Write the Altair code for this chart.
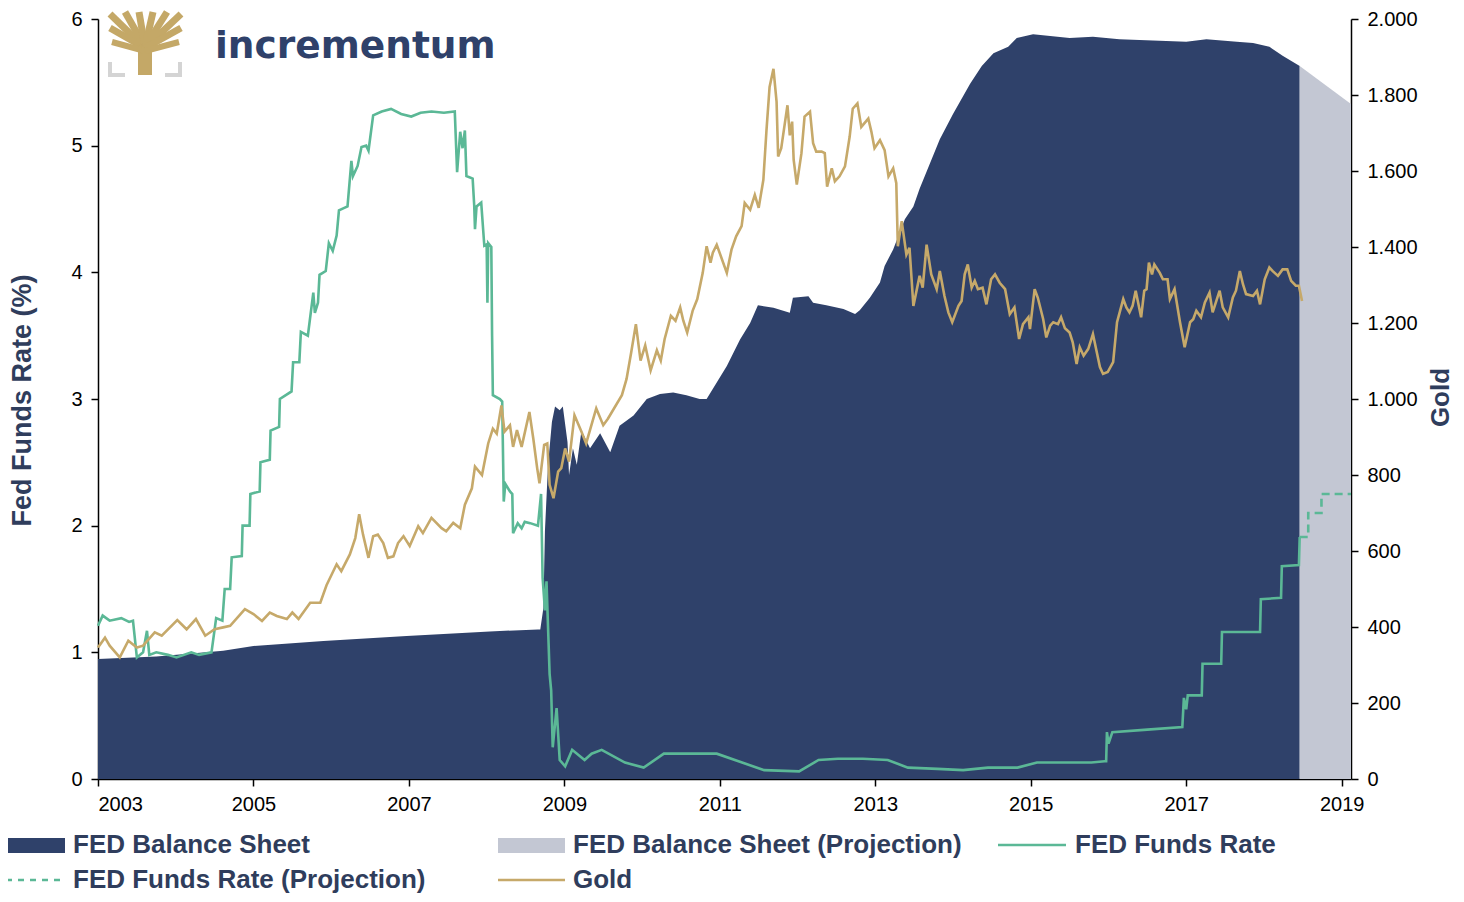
import altair as alt
import pandas as pd

# ---------------- data ----------------
# FED balance sheet, USD bn
bs_years = [2003.00, 2003.75, 2004.61, 2005.00, 2005.90, 2006.97, 2008.04, 2008.66, 2008.69,
            2008.73, 2008.75, 2008.79, 2008.84, 2008.88, 2008.94, 2008.98, 2009.04, 2009.06,
            2009.11, 2009.16, 2009.22, 2009.33, 2009.46, 2009.59, 2009.71, 2009.89, 2010.06,
            2010.23, 2010.40, 2010.57, 2010.74, 2010.83, 2010.96, 2011.09, 2011.26, 2011.39,
            2011.49, 2011.69, 2011.90, 2011.94, 2012.14, 2012.20, 2012.37, 2012.59, 2012.74,
            2012.80, 2012.93, 2013.06, 2013.12, 2013.23, 2013.38, 2013.49, 2013.57, 2013.83,
            2014.00, 2014.22, 2014.37, 2014.52, 2014.71, 2014.82, 2015.03, 2015.50, 2015.80,
            2016.14, 2016.57, 2017.00, 2017.26, 2017.65, 2017.86, 2018.07, 2018.24, 2018.46]
bs_values = [730, 744, 780, 809, 839, 870, 897, 909, 909,
             1040, 1509, 1910, 2171, 2264, 2241, 2264, 2048, 1848,
             2010, 1910, 2118, 2010, 2102, 1987, 2148, 2210, 2310,
             2341, 2349, 2333, 2310, 2310, 2410, 2510, 2672, 2772,
             2880, 2864, 2834, 2926, 2934, 2895, 2880, 2857, 2826,
             2849, 2926, 3018, 3119, 3219, 3403, 3480, 3588, 3889,
             4043, 4227, 4335, 4412, 4451, 4505, 4528, 4505, 4512,
             4497, 4489, 4481, 4497, 4481, 4474, 4451, 4397, 4335]

bs_proj_years = [2018.46, 2019.12]
bs_proj_values = [4335, 4104]

# Effective FED funds rate, %
ffr_years = [2003.00, 2003.06, 2003.15, 2003.30, 2003.40, 2003.45, 2003.50, 2003.58, 2003.63,
             2003.66, 2003.75, 2003.90, 2004.01, 2004.20, 2004.30, 2004.46, 2004.52, 2004.60,
             2004.63, 2004.70, 2004.72, 2004.85, 2004.86, 2004.95, 2004.96, 2005.08, 2005.09,
             2005.21, 2005.22, 2005.33, 2005.34, 2005.49, 2005.51, 2005.59, 2005.61, 2005.70,
             2005.77, 2005.79, 2005.83, 2005.85, 2005.93, 2005.97, 2006.02, 2006.07, 2006.10,
             2006.21, 2006.26, 2006.28, 2006.34, 2006.39, 2006.45, 2006.48, 2006.54, 2006.65,
             2006.77, 2006.90, 2007.03, 2007.15, 2007.29, 2007.45, 2007.59, 2007.62, 2007.66,
             2007.69, 2007.72, 2007.74, 2007.82, 2007.84, 2007.85, 2007.87, 2007.93, 2007.97,
             2008.00, 2008.01, 2008.02, 2008.06, 2008.07, 2008.08, 2008.17, 2008.20, 2008.22,
             2008.24, 2008.30, 2008.33, 2008.34, 2008.40, 2008.45, 2008.49, 2008.56, 2008.66,
             2008.70, 2008.72, 2008.75, 2008.77, 2008.81, 2008.83, 2008.85, 2008.90, 2008.94,
             2009.01, 2009.10, 2009.26, 2009.35, 2009.48, 2009.78, 2010.02, 2010.28, 2010.60,
             2010.96, 2011.24, 2011.57, 2012.02, 2012.27, 2012.52, 2012.84, 2013.16, 2013.42,
             2013.80, 2014.13, 2014.45, 2014.83, 2015.08, 2015.46, 2015.78, 2015.95, 2015.97,
             2015.98, 2016.00, 2016.05, 2016.50, 2016.95, 2016.97, 2017.00, 2017.02, 2017.20,
             2017.21, 2017.45, 2017.46, 2017.95, 2017.96, 2018.22, 2018.23, 2018.45, 2018.46]
ffr_rates = [1.21, 1.29, 1.25, 1.27, 1.24, 1.25, 0.96, 1.00, 1.17,
             0.98, 1.00, 0.98, 0.96, 1.00, 0.98, 1.00, 1.27, 1.25,
             1.50, 1.50, 1.75, 1.76, 2.00, 2.00, 2.25, 2.27, 2.50,
             2.52, 2.75, 2.78, 3.00, 3.06, 3.29, 3.29, 3.53, 3.50,
             3.84, 3.68, 3.76, 3.98, 4.01, 4.23, 4.17, 4.29, 4.49,
             4.52, 4.88, 4.76, 4.84, 4.99, 5.00, 4.96, 5.24, 5.27,
             5.29, 5.25, 5.23, 5.26, 5.27, 5.26, 5.27, 4.79, 5.11,
             4.98, 5.12, 4.76, 4.74, 4.53, 4.34, 4.52, 4.55, 4.21,
             4.22, 3.76, 4.23, 4.20, 3.50, 3.03, 3.00, 2.98, 2.19,
             2.33, 2.27, 2.25, 1.94, 2.02, 1.98, 2.03, 2.02, 2.00,
             2.25, 1.59, 1.33, 1.56, 0.83, 0.70, 0.25, 0.56, 0.15,
             0.10, 0.23, 0.15, 0.20, 0.23, 0.13, 0.09, 0.20, 0.20,
             0.20, 0.14, 0.07, 0.06, 0.15, 0.16, 0.16, 0.15, 0.09,
             0.08, 0.07, 0.09, 0.09, 0.13, 0.13, 0.13, 0.14, 0.14,
             0.37, 0.28, 0.37, 0.39, 0.41, 0.64, 0.55, 0.66, 0.66,
             0.91, 0.91, 1.16, 1.16, 1.42, 1.43, 1.68, 1.69, 1.91]

ffr_proj_years = [2018.46, 2018.57, 2018.57, 2018.74, 2018.74, 2019.12]
ffr_proj_rates = [1.91, 1.91, 2.10, 2.10, 2.25, 2.25]

# Gold, USD/oz
gold_years = [2003.00, 2003.09, 2003.15, 2003.28, 2003.39, 2003.50, 2003.58, 2003.73, 2003.82,
              2004.02, 2004.14, 2004.26, 2004.38, 2004.50, 2004.61, 2004.70, 2004.89, 2005.00,
              2005.11, 2005.21, 2005.30, 2005.43, 2005.50, 2005.58, 2005.73, 2005.86, 2005.94,
              2006.07, 2006.13, 2006.24, 2006.31, 2006.36, 2006.41, 2006.48, 2006.54, 2006.60,
              2006.67, 2006.73, 2006.80, 2006.86, 2006.93, 2007.01, 2007.12, 2007.18, 2007.29,
              2007.42, 2007.48, 2007.57, 2007.66, 2007.72, 2007.81, 2007.85, 2007.94, 2008.02,
              2008.08, 2008.13, 2008.19, 2008.23, 2008.30, 2008.34, 2008.39, 2008.45, 2008.55,
              2008.60, 2008.65, 2008.68, 2008.74, 2008.78, 2008.81, 2008.86, 2008.92, 2008.96,
              2009.01, 2009.06, 2009.13, 2009.22, 2009.28, 2009.41, 2009.50, 2009.56, 2009.74,
              2009.80, 2009.86, 2009.92, 2009.98, 2010.04, 2010.11, 2010.19, 2010.24, 2010.29,
              2010.37, 2010.43, 2010.49, 2010.53, 2010.58, 2010.65, 2010.71, 2010.78, 2010.83,
              2010.88, 2010.91, 2010.96, 2011.09, 2011.15, 2011.21, 2011.28, 2011.32, 2011.39,
              2011.45, 2011.50, 2011.56, 2011.60, 2011.64, 2011.69, 2011.73, 2011.75, 2011.79,
              2011.87, 2011.90, 2011.93, 2011.95, 2011.99, 2012.05, 2012.09, 2012.16, 2012.20,
              2012.24, 2012.31, 2012.35, 2012.38, 2012.44, 2012.48, 2012.54, 2012.61, 2012.67,
              2012.71, 2012.77, 2012.82, 2012.91, 2012.95, 2012.99, 2013.06, 2013.12, 2013.17,
              2013.23, 2013.27, 2013.29, 2013.34, 2013.40, 2013.44, 2013.49, 2013.57, 2013.61,
              2013.66, 2013.72, 2013.79, 2013.83, 2013.89, 2013.94, 2013.99, 2014.07, 2014.11,
              2014.15, 2014.19, 2014.24, 2014.28, 2014.32, 2014.38, 2014.43, 2014.49, 2014.54,
              2014.60, 2014.67, 2014.73, 2014.79, 2014.85, 2014.90, 2014.97, 2014.99, 2015.05,
              2015.09, 2015.16, 2015.20, 2015.25, 2015.29, 2015.35, 2015.39, 2015.44, 2015.50,
              2015.54, 2015.59, 2015.63, 2015.68, 2015.74, 2015.80, 2015.84, 2015.89, 2015.93,
              2015.99, 2016.06, 2016.11, 2016.19, 2016.23, 2016.27, 2016.31, 2016.35, 2016.42,
              2016.46, 2016.49, 2016.52, 2016.56, 2016.59, 2016.66, 2016.70, 2016.76, 2016.79,
              2016.85, 2016.92, 2016.98, 2017.05, 2017.09, 2017.13, 2017.19, 2017.24, 2017.30,
              2017.34, 2017.43, 2017.47, 2017.54, 2017.60, 2017.64, 2017.69, 2017.73, 2017.77,
              2017.86, 2017.91, 2017.95, 2018.01, 2018.07, 2018.11, 2018.18, 2018.24, 2018.30,
              2018.35, 2018.41, 2018.45, 2018.49]
gold_prices = [346, 372, 351, 320, 364, 346, 351, 386, 377,
               418, 394, 421, 377, 394, 399, 403, 447, 434,
               416, 438, 429, 421, 438, 421, 464, 464, 510,
               565, 547, 591, 634, 697, 643, 582, 639, 643,
               621, 582, 586, 621, 639, 613, 665, 647, 687,
               660, 652, 674, 660, 722, 765, 822, 800, 883,
               922, 909, 983, 914, 931, 874, 918, 874, 966,
               896, 818, 778, 879, 883, 774, 739, 809, 818,
               870, 835, 957, 914, 883, 975, 931, 948, 1010,
               1053, 1123, 1197, 1101, 1141, 1075, 1128, 1101, 1158,
               1219, 1206, 1241, 1206, 1175, 1232, 1263, 1332, 1402,
               1359, 1385, 1406, 1332, 1393, 1428, 1455, 1516, 1498,
               1537, 1503, 1577, 1707, 1821, 1869, 1782, 1638, 1660,
               1773, 1694, 1730, 1629, 1564, 1647, 1743, 1756, 1673,
               1651, 1651, 1647, 1559, 1607, 1573, 1586, 1612, 1690,
               1764, 1778, 1716, 1738, 1703, 1660, 1681, 1655, 1586,
               1607, 1568, 1402, 1468, 1380, 1398, 1245, 1324, 1293,
               1406, 1328, 1289, 1337, 1271, 1228, 1202, 1245, 1258,
               1328, 1354, 1293, 1311, 1289, 1293, 1249, 1315, 1328,
               1306, 1289, 1223, 1241, 1158, 1197, 1215, 1184, 1289,
               1267, 1210, 1162, 1193, 1202, 1197, 1215, 1186, 1175,
               1149, 1092, 1136, 1114, 1132, 1171, 1132, 1084, 1066,
               1071, 1097, 1202, 1263, 1241, 1228, 1245, 1285, 1215,
               1285, 1289, 1359, 1328, 1354, 1332, 1315, 1315, 1263,
               1289, 1202, 1136, 1202, 1210, 1232, 1215, 1254, 1280,
               1228, 1285, 1241, 1215, 1267, 1285, 1337, 1302, 1276,
               1271, 1285, 1249, 1315, 1346, 1337, 1324, 1341, 1341,
               1311, 1298, 1298, 1258]

x_ticks = list(range(2003, 2020, 2))
ffr_ticks = [0, 1, 2, 3, 4, 5, 6]
gold_ticks = list(range(0, 2001, 200))

legend_row1 = ["FED Balance Sheet", "FED Balance Sheet (Projection)", "FED Funds Rate"]
legend_row2 = ["FED Funds Rate (Projection)", "Gold"]

# ---------------- styling ----------------
NAVY = "#2F416A"
PROJ_GREY = "#C3C7D3"
GREEN = "#5BB896"
GOLD = "#C6A96A"
TEXT_NAVY = "#2F3D5C"
FONT = "Liberation Sans"

W, H = 1253, 760
X_DOMAIN = [2003, 2019.12]

bs_df = pd.DataFrame({"year": bs_years, "bn": bs_values})
bs_proj_df = pd.DataFrame({"year": bs_proj_years, "bn": bs_proj_values})
ffr_df = pd.DataFrame({"year": ffr_years, "rate": ffr_rates, "i": range(len(ffr_years))})
ffr_proj_df = pd.DataFrame({"year": ffr_proj_years, "rate": ffr_proj_rates,
                            "i": range(len(ffr_proj_years))})
gold_df = pd.DataFrame({"year": gold_years, "price": gold_prices})
one = pd.DataFrame({"a": [0]})

x_axis = alt.Axis(values=x_ticks, format="d", title=None, grid=False,
                  labelFontSize=20, labelFont=FONT, labelColor="black", labelPadding=8,
                  tickColor="black", tickSize=7, tickWidth=1.5,
                  domainColor="black", domainWidth=1.5)
x_enc = alt.X("year:Q", scale=alt.Scale(domain=X_DOMAIN, nice=False, zero=False), axis=x_axis)

bs_scale = alt.Scale(domain=[0, 4620], nice=False)
ffr_scale = alt.Scale(domain=[0, 6], nice=False)
gold_scale = alt.Scale(domain=[0, 2000], nice=False)

bs_area = alt.Chart(bs_df).mark_area(color=NAVY, opacity=1).encode(
    x=x_enc, y=alt.Y("bn:Q", scale=bs_scale, axis=None))
bs_proj_area = alt.Chart(bs_proj_df).mark_area(color=PROJ_GREY, opacity=1).encode(
    x=x_enc, y=alt.Y("bn:Q", scale=bs_scale, axis=None))

ffr_axis = alt.Axis(values=ffr_ticks, format="d", grid=False,
                    title="Fed Funds Rate (%)", titleFontSize=27, titleFont=FONT,
                    titleFontWeight="bold", titleColor=TEXT_NAVY, titleAngle=270,
                    titleX=-76, titleY=381, titleAlign="center", titleBaseline="middle",
                    labelFontSize=20, labelFont=FONT, labelColor="black", labelPadding=9,
                    tickColor="black", tickSize=7, tickWidth=1.5,
                    domainColor="black", domainWidth=1.5)
ffr_line = alt.Chart(ffr_df).mark_line(color=GREEN, strokeWidth=2.6).encode(
    x=x_enc, y=alt.Y("rate:Q", scale=ffr_scale, axis=ffr_axis), order="i:Q")
ffr_proj_line = alt.Chart(ffr_proj_df).mark_line(color=GREEN, strokeWidth=2.6,
                                                 strokeDash=[8, 5]).encode(
    x=x_enc, y=alt.Y("rate:Q", scale=ffr_scale, axis=None), order="i:Q")

gold_axis = alt.Axis(orient="right", values=gold_ticks, grid=False,
                     labelExpr="replace(format(datum.value, ','), ',', '.')",
                     title="Gold", titleFontSize=26, titleFont=FONT,
                     titleFontWeight="bold", titleColor=TEXT_NAVY, titleAngle=270,
                     titleX=89, titleY=378, titleAlign="center", titleBaseline="middle",
                     labelFontSize=20, labelFont=FONT, labelColor="black", labelPadding=9,
                     tickColor="black", tickSize=7, tickWidth=1.5,
                     domainColor="black", domainWidth=1.5)
gold_line = alt.Chart(gold_df).mark_line(color=GOLD, strokeWidth=2.6).encode(
    x=x_enc, y=alt.Y("price:Q", scale=gold_scale, axis=gold_axis))

# ---------------- logo ----------------
logo_layers = []
branches = [  # (x1, y1, x2, y2, width) relative to plot origin
    (47, 56, 47, 26, 14),
    (47, 29, 12, -5, 7), (47, 29, 12, 9, 7), (47, 32, 14, 23, 6),
    (47, 28, 27, -7, 7), (47, 28, 41, -7, 7), (47, 28, 55, -7, 7),
    (47, 28, 69, -7, 7), (47, 29, 83, -5, 7), (47, 29, 83, 9, 7),
    (47, 32, 81, 23, 6),
]
for x1, y1, x2, y2, w in branches:
    logo_layers.append(alt.Chart(one).mark_rule(color="#C4A867", strokeWidth=w).encode(
        x=alt.value(x1), y=alt.value(y1), x2=alt.value(x2), y2=alt.value(y2)))
brackets = [(12, 43, 12, 57), (10, 56, 27, 56), (82, 43, 82, 57), (67, 56, 84, 56)]
for x1, y1, x2, y2 in brackets:
    logo_layers.append(alt.Chart(one).mark_rule(color="#D4D4D4", strokeWidth=4).encode(
        x=alt.value(x1), y=alt.value(y1), x2=alt.value(x2), y2=alt.value(y2)))
logo_layers.append(alt.Chart(one).mark_text(
    text="incrementum", align="left", baseline="alphabetic", font="DejaVu Sans",
    fontWeight="bold", fontSize=37.5, color=NAVY).encode(x=alt.value(117), y=alt.value(39)))

# ---------------- legend ----------------
R1, R2 = 826, 861
leg = []
def leg_text(x, y, s):
    return alt.Chart(one).mark_text(text=s, align="left", baseline="middle", font=FONT,
                                    fontWeight="bold", fontSize=26, color=TEXT_NAVY).encode(
        x=alt.value(x), y=alt.value(y))

leg.append(alt.Chart(one).mark_rect(color=NAVY).encode(
    x=alt.value(-92), x2=alt.value(-33), y=alt.value(R1 - 7), y2=alt.value(R1 + 8)))
leg.append(leg_text(-25, R1, legend_row1[0]))
leg.append(alt.Chart(one).mark_rect(color=PROJ_GREY).encode(
    x=alt.value(400), x2=alt.value(467), y=alt.value(R1 - 7), y2=alt.value(R1 + 8)))
leg.append(leg_text(475, R1, legend_row1[1]))
leg.append(alt.Chart(one).mark_rule(color=GREEN, strokeWidth=2.5).encode(
    x=alt.value(900), x2=alt.value(968), y=alt.value(R1)))
leg.append(leg_text(977, R1, legend_row1[2]))
leg.append(alt.Chart(one).mark_rule(color=GREEN, strokeWidth=2.5, strokeDash=[6, 6]).encode(
    x=alt.value(-92), x2=alt.value(-33), y=alt.value(R2)))
leg.append(leg_text(-25, R2, legend_row2[0]))
leg.append(alt.Chart(one).mark_rule(color=GOLD, strokeWidth=2.5).encode(
    x=alt.value(400), x2=alt.value(467), y=alt.value(R2)))
leg.append(leg_text(475, R2, legend_row2[1]))

chart = alt.layer(
    bs_area, bs_proj_area, ffr_line, ffr_proj_line, gold_line, *logo_layers, *leg
).resolve_scale(y="independent").properties(
    width=W, height=H,
    autosize=alt.AutoSizeParams(type="none"),
    padding={"left": 90, "top": 11, "right": 104, "bottom": 115},
    background="white",
).configure_view(stroke=None)

chart.save("out.html", embed_options={"renderer": "svg", "actions": False})
